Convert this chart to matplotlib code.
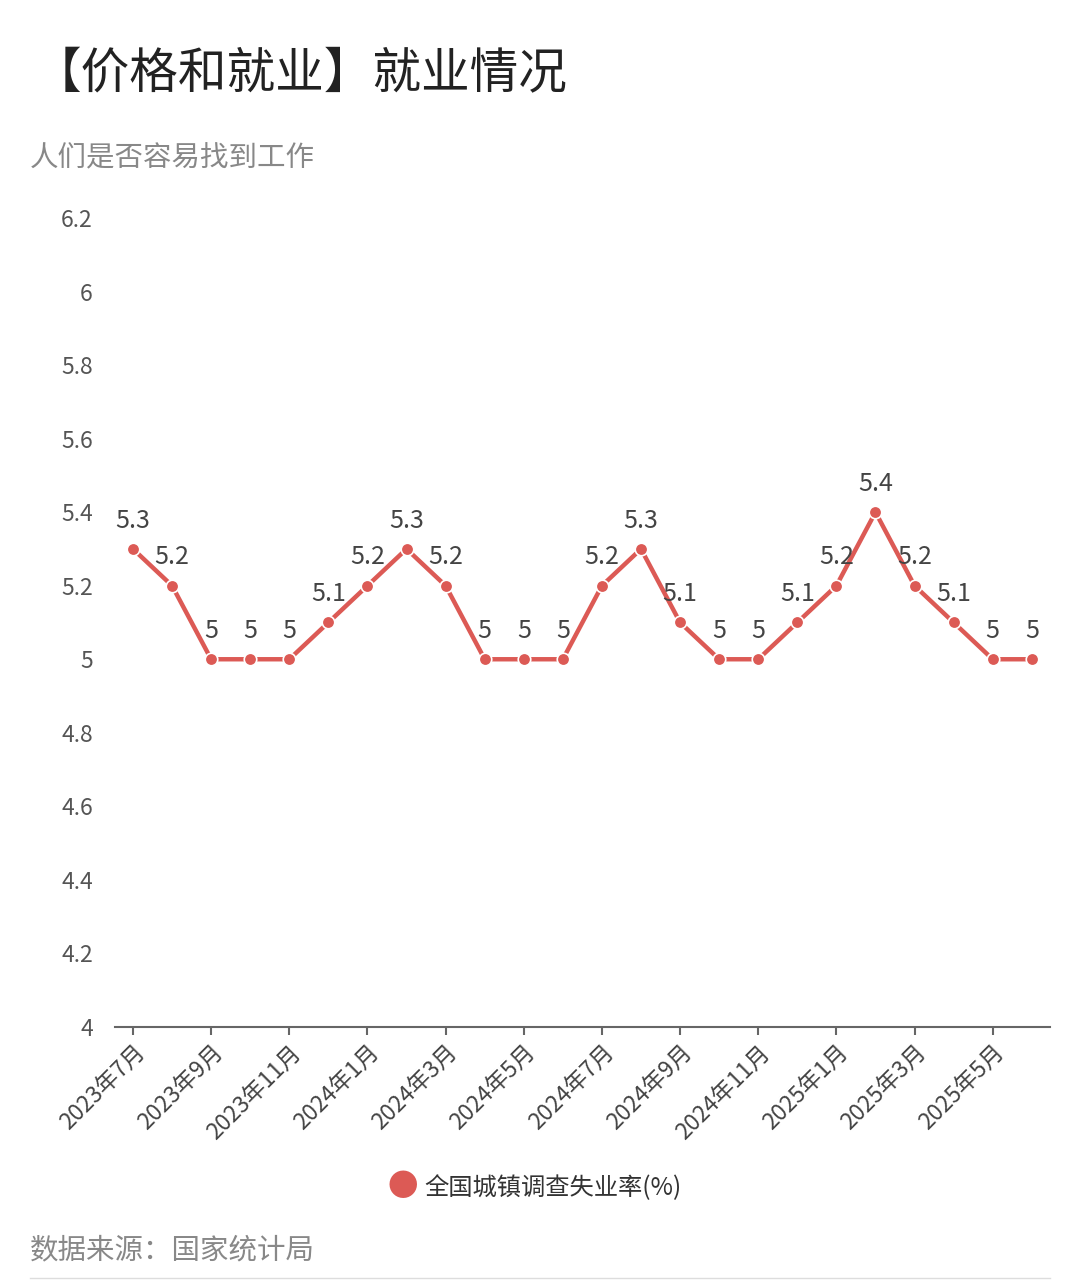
import matplotlib
matplotlib.use("Agg")
import matplotlib.pyplot as plt

plt.rcParams['font.family'] = ['Noto Sans CJK SC', 'DejaVu Sans']

months = ["2023年7月","2023年8月","2023年9月","2023年10月","2023年11月","2023年12月",
          "2024年1月","2024年2月","2024年3月","2024年4月","2024年5月","2024年6月",
          "2024年7月","2024年8月","2024年9月","2024年10月","2024年11月","2024年12月",
          "2025年1月","2025年2月","2025年3月","2025年4月","2025年5月","2025年6月"]
rates = [5.3,5.2,5.0,5.0,5.0,5.1,5.2,5.3,5.2,5.0,5.0,5.0,
         5.2,5.3,5.1,5.0,5.0,5.1,5.2,5.4,5.2,5.1,5.0,5.0]
yticks = [4,4.2,4.4,4.6,4.8,5,5.2,5.4,5.6,5.8,6,6.2]

red = '#dc5a55'
fig = plt.figure(figsize=(10.8,12.84), dpi=100)
ax = fig.add_axes([0.1065,0.2002,0.8655,0.630])
x = list(range(len(rates)))
ax.plot(x, rates, color=red, lw=3.2, marker='o', ms=9, mfc=red, mec='white', mew=1.2, zorder=3)
for xi, v in zip(x, rates):
    ax.annotate(f"{v:g}", (xi, v), xytext=(0,11), textcoords='offset points',
                ha='center', va='bottom', fontsize=18, color='#444444')
ax.set_xlim(-0.46, 23.46)
ax.set_ylim(4, 6.2)
ax.set_yticks(yticks)
ax.set_yticklabels([f"{t:g}" for t in yticks], fontsize=16.5, color='#555555')
ax.set_xticks(x[::2])
ax.set_xticklabels(months[::2], rotation=45, ha='right', rotation_mode='anchor', fontsize=16.5, color='#444444')
for s in ['top','right','left']:
    ax.spines[s].set_visible(False)
ax.spines['bottom'].set_color('#666666')
ax.spines['bottom'].set_linewidth(1.5)
ax.tick_params(axis='y', length=0, pad=16)
ax.tick_params(axis='x', length=6, color='#666666', width=1.5, pad=4)

fig.text(0.03, 1-75/1284, "【价格和就业】就业情况", fontsize=35, color='#222222', va='center', ha='left')
fig.text(0.028, 1-158/1284, "人们是否容易找到工作", fontsize=20.5, color='#888888', va='center', ha='left')
fig.text(0.373, 1-1188/1284, "●", fontsize=22, color=red, va='center', ha='center')
fig.text(0.393, 1-1188/1284, "全国城镇调查失业率(%)", fontsize=17.5, color='#333333', va='center', ha='left')
fig.text(0.028, 1-1250/1284, "数据来源：国家统计局", fontsize=20.5, color='#888888', va='center', ha='left')
fig.add_artist(plt.Line2D([0.028,0.972],[1-1278/1284]*2, color='#dddddd', lw=1))
fig.savefig("out.png", dpi=100, facecolor='white')
